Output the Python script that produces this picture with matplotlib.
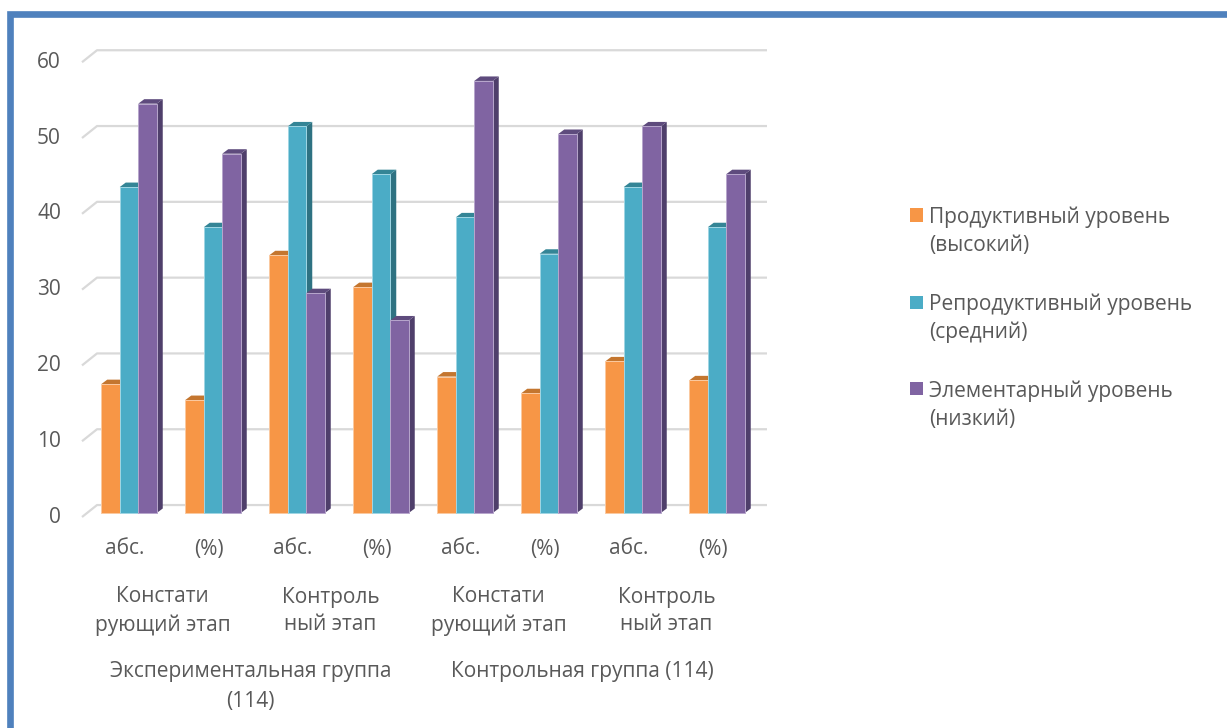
import matplotlib
matplotlib.use("Agg")
import matplotlib.pyplot as plt
from matplotlib.patches import Polygon, Rectangle
from matplotlib.lines import Line2D

plt.rcParams['font.family'] = ['Open Sans', 'DejaVu Sans']

# data
abs_pct = ['абс.', '(%)', 'абс.', '(%)', 'абс.', '(%)', 'абс.', '(%)']
stages = ['Констати\nрующий этап', 'Контроль\nный этап', 'Констати\nрующий этап', 'Контроль\nный этап']
groups = ['Экспериментальная группа\n(114)', 'Контрольная группа (114)']
series_names = ['Продуктивный уровень\n(высокий)', 'Репродуктивный уровень\n(средний)', 'Элементарный уровень\n(низкий)']
high = [17, 14.9, 34, 29.8, 18, 15.8, 20, 17.5]
mid = [43, 37.7, 51, 44.7, 39, 34.2, 43, 37.7]
low = [54, 47.4, 29, 25.4, 57, 50.0, 51, 44.7]
yticks = [0, 10, 20, 30, 40, 50, 60]

front = ['#f79646', '#4bacc6', '#8064a2']
side = ['#b96d2a', '#2e7282', '#4f3f6b']
top = ['#c4762f', '#348596', '#5e4b7d']
edge = ['#fbc9a0', '#9fd6e4', '#b7a6cc']
txt = '#595959'
fs = 15

W, H = 1227, 728
fig = plt.figure(figsize=(W / 100, H / 100), dpi=100)
ax = fig.add_axes([0, 0, 1, 1])
ax.axis('off')

# pixel -> data helpers (category step 84 px, 7.58 px per unit)
def dx_(p): return (p - 87) / 84 - 0.5
def dy_(p): return (513 - p) / 7.58

ax.set_xlim(dx_(0), dx_(W))
ax.set_ylim(dy_(H), dy_(0))

# back wall gridlines with the short floor-edge diagonals
gx0, gx1, gfx = dx_(97), dx_(767), dx_(82)
for v in yticks:
    ax.plot([gfx, gx0, gx1], [v - 0.53, v + 1.05, v + 1.05], color='#d9d9d9', lw=1.6, zorder=1,
            solid_capstyle='butt')
    ax.text(dx_(61), v - 0.53, str(v), ha='right', va='center', fontsize=fs, color=txt)

w = 18.5 / 84
ddx, ddy = 6 / 84, 4.5 / 7.58
xs = list(range(len(abs_pct)))
for k, vals in enumerate([high, mid, low]):
    pos = [x + (k - 1) * w for x in xs]
    ax.bar(pos, vals, width=w, color=front[k], edgecolor=edge[k], linewidth=0.7, zorder=3 + k + 0.05)
    for p, h in zip(pos, vals):
        xl, xr = p - w / 2, p + w / 2
        ax.add_patch(Polygon([(xr, 0), (xr + ddx, ddy), (xr + ddx, h + ddy), (xr, h)],
                             closed=True, facecolor=side[k], edgecolor='none', zorder=3 + k))
        ax.add_patch(Polygon([(xl, h), (xl + ddx, h + ddy), (xr + ddx, h + ddy), (xr, h)],
                             closed=True, facecolor=top[k], edgecolor='none', zorder=3 + k))

# multi-level category labels
for i, lab in enumerate(abs_pct):
    ax.text(i - 0.05, dy_(549), lab, ha='center', va='center', fontsize=fs, color=txt)
for j, lab in enumerate(stages):
    ax.text(2 * j + 0.4, dy_(611), lab, ha='center', va='center', fontsize=fs, color=txt, linespacing=1.4)
ax.text(1.45, dy_(672), groups[0].split('\n')[0], ha='center', va='center', fontsize=fs, color=txt)
ax.text(1.45, dy_(702), groups[0].split('\n')[1], ha='center', va='center', fontsize=fs, color=txt)
ax.text(5.4, dy_(672), groups[1], ha='center', va='center', fontsize=fs, color=txt)

# legend
for k, name in enumerate(series_names):
    yc = 215 + 87 * k
    fig.patches.append(Rectangle((910 / W, 1 - (yc + 6.5) / H), 13 / W, 13 / H,
                                 transform=fig.transFigure, facecolor=front[k], edgecolor='none'))
    for n, line in enumerate(name.split('\n')):
        fig.text(929 / W, 1 - (yc + 28 * n) / H, line, ha='left', va='center_baseline',
                 fontsize=fs, color=txt)

# outer frame (top and left edges visible)
fig.add_artist(Line2D([10 / W, 10 / W, 1.01], [-0.01, 1 - 14 / H, 1 - 14 / H],
                      transform=fig.transFigure, color='#4f81bd', lw=4.8, solid_joinstyle='miter'))

fig.savefig('out.png', dpi=100, facecolor='white')
